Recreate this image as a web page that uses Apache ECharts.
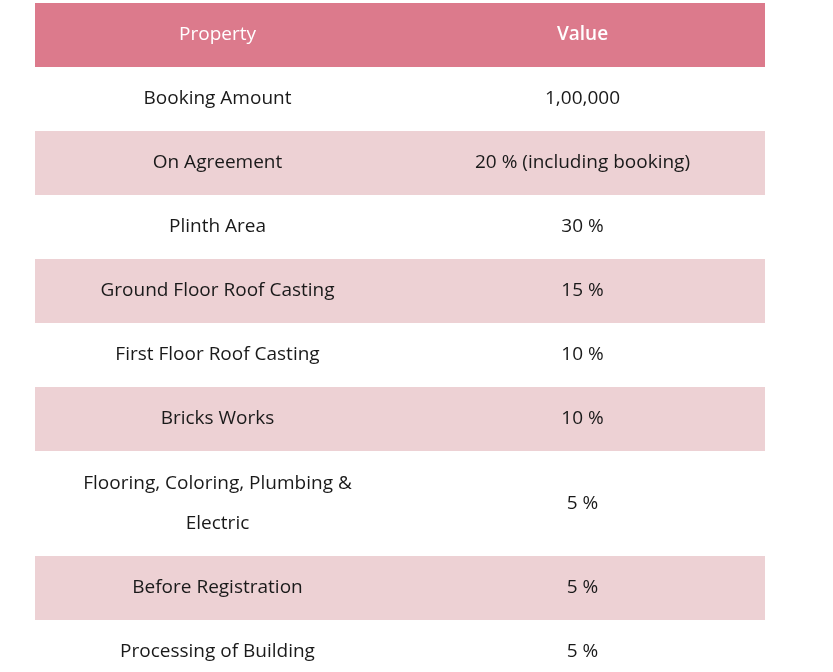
<!DOCTYPE html>
<html><head><meta charset="utf-8">
<script src="https://cdn.jsdelivr.net/npm/echarts@6/dist/echarts.min.js"></script>
<style>html,body{margin:0;padding:0;background:#fff}#c{width:833px;height:672px}</style>
</head><body><div id="c"></div>
<script>
const headers = ['Property', 'Value'];
const properties = ['Booking Amount','On Agreement','Plinth Area','Ground Floor Roof Casting','First Floor Roof Casting','Bricks Works','Flooring, Coloring, Plumbing &\nElectric','Before Registration','Processing of Building'];
const values = ['1,00,000','20 % (including booking)','30 %','15 %','10 %','10 %','5 %','5 %','5 %'];

const rowH = 64, lineExtra = 41, top0 = 3;
const rows = [];
let y = top0;
rows.push({y0: y, y1: y + rowH, cells: headers, header: true});
y += rowH;
properties.forEach((p, i) => {
  const lines = p.split('\n').length;
  const h = rowH + (lines - 1) * lineExtra;
  rows.push({y0: y, y1: y + h, cells: [p, values[i]], header: false, idx: i});
  y += h;
});
const colX = [35, 400, 765];
const data = rows.map((r, i) => [colX[0], r.y0, colX[2], r.y1, i]);

const chart = echarts.init(document.getElementById('c'));
chart.setOption({
  animation: false,
  grid: {left: 0, right: 0, top: 0, bottom: 0},
  xAxis: {type: 'value', min: 0, max: 833, show: false},
  yAxis: {type: 'value', min: 0, max: 672, inverse: true, show: false},
  series: [{
    type: 'custom',
    data: data,
    clip: true,
    renderItem: (params, api) => {
      const r = rows[api.value(4)];
      const p0 = api.coord([api.value(0), api.value(1)]);
      const p1 = api.coord([api.value(2), api.value(3)]);
      const mid = api.coord([colX[1], 0])[0];
      const fill = r.header ? '#DC7A8C' : (r.idx % 2 === 1 ? '#EDD1D4' : '#ffffff');
      const cy = (p0[1] + p1[1]) / 2;
      const txt = (t, x, bold) => ({
        type: 'text',
        style: {text: t, x: x, y: cy, align: 'center', verticalAlign: 'middle',
          fill: r.header ? '#ffffff' : '#1a1a1a',
          font: (bold ? '600 ' : '400 ') + '19px "Open Sans", sans-serif', lineHeight: 40}
      });
      return {type: 'group', children: [
        {type: 'rect', shape: {x: p0[0], y: p0[1], width: p1[0] - p0[0], height: p1[1] - p0[1]}, style: {fill: fill}},
        txt(r.cells[0], (p0[0] + mid) / 2, false),
        txt(r.cells[1], (mid + p1[0]) / 2, r.header)
      ]};
    }
  }]
});
</script></body></html>
